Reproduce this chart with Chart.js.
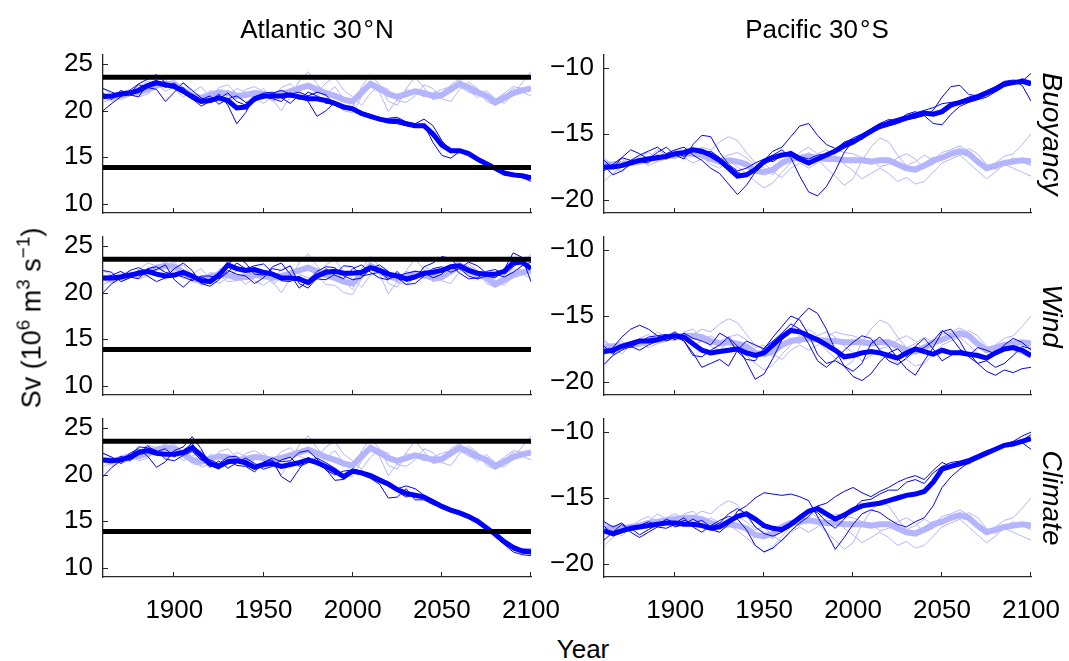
<!DOCTYPE html>
<html>
<head>
<meta charset="utf-8">
<title>Overturning at 30N / 30S</title>
<script src="https://cdn.jsdelivr.net/npm/chart.js@4.4.0/dist/chart.umd.min.js"></script>
<style>
  body { margin: 0; background: #fff; }
  #fig { position: relative; width: 1069px; height: 661px; overflow: hidden;
         font-family: "Liberation Sans", Arial, Helvetica, sans-serif; color: #000; }
  #fig canvas { position: absolute; }
  .lbl { position: absolute; white-space: nowrap; font-size: 26px; line-height: 1; z-index: 5; }
  .lbl sup { font-size: 70%; line-height: 0; vertical-align: 0.6em; }
  .row { font-style: italic; font-size: 28px; }
</style>
</head>
<body>
<div id="fig">
  <div class="lbl" style="left:317px;top:29px;transform:translate(-50%,-50%)">Atlantic 30<span style="margin:0 1px 0 2px">°</span>N</div>
  <div class="lbl" style="left:817px;top:29px;transform:translate(-50%,-50%)">Pacific 30<span style="margin:0 1px 0 2px">°</span>S</div>
  <div class="lbl" style="left:32px;top:318px;font-size:27px;transform:translate(-50%,-50%) rotate(-90deg)">Sv (10<sup>6</sup> m<sup>3</sup> s<sup>−1</sup>)</div>
  <div class="lbl" style="left:583px;top:649px;transform:translate(-50%,-50%)">Year</div>
  <div class="lbl row" style="left:1052px;top:134px;transform:translate(-50%,-50%) rotate(90deg)">Buoyancy</div>
  <div class="lbl row" style="left:1052px;top:316px;transform:translate(-50%,-50%) rotate(90deg)">Wind</div>
  <div class="lbl row" style="left:1052px;top:498px;transform:translate(-50%,-50%) rotate(90deg)">Climate</div>
</div>
<script>
// years (5-yearly) and tick labels
const years = [1860, 1865, 1870, 1875, 1880, 1885, 1890,
               1895, 1900, 1905, 1910, 1915, 1920, 1925,
               1930, 1935, 1940, 1945, 1950, 1955, 1960,
               1965, 1970, 1975, 1980, 1985, 1990, 1995,
               2000, 2005, 2010, 2015, 2020, 2025, 2030,
               2035, 2040, 2045, 2050, 2055, 2060, 2065,
               2070, 2075, 2080, 2085, 2090, 2095, 2100];
const yearTicks = [1900, 1950, 2000, 2050, 2100];
const atlTicks = [10, 15, 20, 25];
const pacTicks = [-20, -15, -10];
const atlLimits = [23.6, 13.9];

// Atlantic 30N control runs (light)
const atlCtrlMean = [21.6, 21.5, 21.7, 21.9, 22.0, 22.3, 22.7,
                     22.9, 22.8, 22.2, 21.6, 21.4, 21.7, 22.0,
                     21.9, 21.6, 21.7, 21.9, 21.8, 21.6, 21.8,
                     22.1, 22.4, 22.7, 22.3, 21.9, 21.6, 21.2,
                     21.0, 22.0, 22.9, 22.4, 21.8, 21.5, 21.8,
                     22.1, 21.9, 21.6, 21.7, 22.3, 22.9, 22.5,
                     22.0, 21.6, 20.9, 21.4, 21.9, 22.2, 22.4];
const atlCtrl1 = [22.4, 21.8, 21.2, 21.6, 22.5, 23.2, 22.9,
                  22.1, 22.6, 23.0, 21.9, 20.8, 21.2, 22.5,
                  22.8, 21.8, 20.9, 21.6, 22.4, 21.2, 20.0,
                  21.5, 23.2, 24.2, 22.9, 21.8, 22.6, 21.3,
                  20.3, 22.6, 23.9, 22.8, 21.0, 20.6, 22.4,
                  23.6, 22.5, 21.2, 21.4, 22.8, 23.4, 22.2,
                  21.4, 22.2, 21.3, 20.8, 21.8, 23.0, 24.2];
const atlCtrl2 = [20.9, 21.3, 22.0, 22.3, 21.5, 21.8, 22.6,
                  23.4, 22.3, 21.5, 22.0, 22.6, 21.5, 21.0,
                  21.6, 22.4, 22.0, 21.3, 20.8, 21.5, 22.5,
                  22.9, 22.0, 21.6, 21.9, 23.0, 23.6, 22.2,
                  21.5, 20.6, 21.9, 22.7, 22.3, 21.1, 20.9,
                  21.6, 22.8, 22.4, 21.3, 21.0, 22.3, 23.1,
                  22.4, 21.0, 20.6, 21.6, 22.4, 22.0, 21.6];
const atlCtrl3 = [21.6, 21.0, 21.5, 22.0, 22.4, 21.9, 22.8,
                  23.0, 23.3, 22.4, 21.2, 21.0, 22.2, 21.9,
                  21.2, 21.3, 22.3, 22.6, 22.0, 21.0, 21.5,
                  22.3, 22.3, 22.6, 21.8, 20.9, 20.8, 20.0,
                  19.8, 21.5, 22.6, 22.0, 19.9, 21.2, 22.3,
                  22.0, 21.5, 21.9, 22.3, 22.6, 22.6, 22.0,
                  21.7, 21.5, 21.2, 21.9, 22.6, 22.4, 22.3];

// Atlantic 30N, buoyancy forcing
const atlBuoyMean = [21.5, 21.6, 21.8, 21.9, 22.2, 22.7, 23.0,
                     22.8, 22.6, 22.1, 21.5, 21.0, 21.1, 21.4,
                     21.1, 20.3, 20.4, 21.3, 21.6, 21.6, 21.6,
                     21.7, 21.5, 21.3, 21.3, 21.1, 20.8, 20.4,
                     20.2, 19.7, 19.4, 19.1, 18.9, 18.9, 18.6,
                     18.4, 18.4, 17.5, 16.3, 15.7, 15.7, 15.4,
                     14.8, 14.3, 13.8, 13.3, 13.1, 13.0, 12.8];
const atlBuoy1 = [20.0, 20.8, 21.5, 22.2, 22.9, 23.4, 23.9,
                  23.0, 22.4, 22.5, 21.3, 20.5, 21.0, 21.8,
                  20.6, 18.6, 19.8, 21.5, 21.9, 22.0, 21.4,
                  20.8, 21.7, 21.0, 19.4, 20.0, 20.9, 20.5,
                  20.0, 19.5, 19.3, 19.0, 18.7, 18.6, 18.4,
                  18.3, 18.5, 16.6, 15.2, 14.9, 15.6, 15.2,
                  14.7, 14.1, 13.6, 13.1, 13.0, 12.8, 12.4];
const atlBuoy2 = [22.4, 22.0, 21.6, 21.9, 22.8, 22.5, 22.3,
                  21.0, 22.0, 23.0, 22.2, 21.4, 20.9, 21.3,
                  21.9, 21.0, 20.6, 21.2, 21.3, 21.9, 22.2,
                  21.8, 22.0, 21.6, 22.0, 21.7, 20.6, 20.2,
                  20.4, 19.9, 19.6, 19.0, 19.2, 19.3, 18.8,
                  18.6, 19.1, 18.4, 16.8, 15.7, 15.8, 15.5,
                  14.9, 14.4, 13.7, 13.4, 13.0, 12.9, 12.7];
const atlBuoy3 = [21.9, 21.2, 22.2, 21.7, 21.5, 22.9, 23.3,
                  22.5, 23.0, 22.0, 21.8, 21.2, 21.6, 20.7,
                  21.3, 21.6, 20.9, 21.0, 21.5, 21.3, 21.0,
                  21.9, 21.2, 22.0, 21.6, 20.8, 20.9, 20.6,
                  20.1, 19.8, 19.5, 19.3, 18.8, 19.0, 18.8,
                  18.3, 18.2, 17.2, 16.2, 15.5, 15.6, 15.4,
                  14.6, 14.2, 13.9, 13.3, 13.3, 13.1, 13.0];

// Atlantic 30N, wind forcing
const atlWindMean = [21.6, 21.6, 21.7, 21.9, 22.1, 22.3, 22.0,
                     21.8, 21.9, 22.2, 21.8, 21.3, 21.2, 21.9,
                     23.0, 22.6, 22.4, 22.5, 22.2, 22.0, 21.6,
                     21.6, 21.5, 21.1, 21.8, 22.2, 22.3, 22.1,
                     22.1, 22.2, 22.7, 22.4, 22.0, 21.8, 21.5,
                     21.7, 22.1, 22.2, 22.4, 22.8, 22.9, 22.4,
                     22.1, 22.0, 22.0, 22.3, 23.2, 23.3, 22.6];
const atlWind1 = [20.0, 21.0, 21.6, 22.4, 22.7, 22.2, 22.5,
                  23.0, 21.4, 20.6, 21.5, 21.7, 21.3, 22.2,
                  23.1, 23.8, 23.2, 22.0, 21.9, 22.6, 22.4,
                  22.9, 21.0, 20.5, 21.6, 22.6, 21.9, 21.5,
                  22.6, 23.0, 22.2, 21.6, 21.4, 22.3, 21.2,
                  21.5, 22.8, 23.2, 23.9, 23.7, 22.6, 21.8,
                  21.5, 21.8, 21.6, 22.5, 24.3, 23.8, 21.2];
const atlWind2 = [22.4, 22.2, 21.2, 21.6, 22.4, 21.8, 21.2,
                  21.6, 22.6, 23.2, 22.4, 21.0, 20.7, 21.4,
                  22.4, 22.0, 21.8, 21.0, 21.6, 22.8, 23.2,
                  22.0, 20.5, 21.3, 22.3, 22.8, 22.7, 21.8,
                  21.4, 21.6, 22.6, 23.0, 22.3, 21.6, 20.9,
                  21.0, 21.8, 22.6, 22.8, 22.2, 22.6, 23.3,
                  22.9, 22.1, 22.0, 21.7, 22.2, 22.9, 23.3];
const atlWind3 = [21.5, 21.9, 22.3, 21.7, 21.5, 22.6, 22.8,
                  22.2, 22.0, 21.7, 21.3, 21.8, 21.8, 21.5,
                  22.2, 23.2, 22.6, 22.9, 23.1, 22.2, 21.3,
                  21.2, 21.8, 21.0, 21.5, 21.4, 22.0, 22.9,
                  22.8, 21.8, 22.0, 22.2, 21.5, 21.8, 22.1,
                  22.3, 22.2, 21.6, 22.0, 23.0, 22.1, 21.5,
                  21.6, 22.3, 22.5, 22.0, 22.8, 23.5, 22.8];

// Atlantic 30N, full climate forcing
const atlClimMean = [21.6, 21.5, 21.6, 21.9, 22.4, 22.6, 22.3,
                     22.2, 22.2, 22.4, 22.9, 22.1, 21.2, 20.9,
                     21.4, 21.5, 21.3, 20.8, 21.1, 21.2, 20.9,
                     21.1, 21.3, 21.6, 21.3, 20.9, 20.4, 19.8,
                     20.4, 20.2, 19.9, 19.4, 19.0, 18.4, 18.0,
                     17.8, 17.6, 17.1, 16.6, 16.2, 15.9, 15.5,
                     15.0, 14.3, 13.6, 12.8, 12.2, 11.8, 11.7];
const atlClim1 = [19.8, 20.8, 21.5, 22.3, 22.8, 22.0, 20.8,
                  21.4, 22.6, 23.0, 24.1, 22.8, 21.0, 20.6,
                  21.6, 21.0, 20.9, 20.3, 21.4, 21.6, 19.8,
                  19.2, 20.6, 21.9, 21.2, 20.6, 19.4, 19.5,
                  20.2, 20.0, 19.6, 19.0, 17.5, 17.6, 18.5,
                  17.3, 17.3, 16.8, 16.5, 16.1, 15.8, 15.4,
                  14.8, 14.2, 13.3, 12.5, 11.7, 11.4, 11.3];
const atlClim2 = [22.3, 21.9, 21.2, 22.0, 23.0, 22.9, 22.6,
                  21.7, 21.5, 22.1, 22.5, 21.6, 21.6, 21.2,
                  21.9, 22.0, 21.0, 20.6, 21.3, 21.8, 21.4,
                  21.5, 22.4, 22.6, 21.7, 20.5, 20.0, 20.4,
                  20.5, 20.3, 20.1, 19.7, 19.2, 18.5, 18.8,
                  18.5, 17.8, 17.3, 16.8, 16.3, 16.0, 15.6,
                  15.2, 14.4, 13.8, 13.0, 12.3, 12.0, 12.0];
const atlClim3 = [21.7, 21.3, 22.0, 21.5, 22.2, 23.1, 22.5,
                  22.8, 21.9, 22.6, 23.4, 21.7, 20.8, 21.5,
                  20.7, 21.3, 21.8, 21.2, 20.6, 20.9, 21.6,
                  21.9, 20.9, 21.3, 21.8, 21.3, 20.7, 19.9,
                  20.6, 20.4, 19.8, 19.2, 18.8, 18.2, 17.6,
                  17.9, 17.7, 17.0, 16.4, 16.0, 15.7, 15.4,
                  14.9, 14.1, 13.4, 12.6, 11.9, 11.6, 11.5];

// Pacific 30S control runs (light)
const pacCtrlMean = [-17.4, -17.3, -17.3, -17.2, -17.1, -16.9, -16.8,
                     -16.7, -16.6, -16.5, -16.5, -16.6, -16.9, -17.1,
                     -17.0, -17.1, -17.3, -17.8, -17.9, -17.7, -17.2,
                     -16.9, -16.8, -16.7, -16.8, -16.9, -16.9, -17.0,
                     -17.0, -17.0, -17.1, -17.0, -17.0, -17.3, -17.6,
                     -17.7, -17.4, -17.0, -16.8, -16.5, -16.3, -16.5,
                     -17.1, -17.6, -17.4, -17.2, -17.1, -17.0, -17.1];
const pacCtrl1 = [-16.8, -17.4, -17.9, -17.2, -16.7, -16.4, -16.9,
                  -16.5, -16.2, -16.6, -16.4, -16.0, -16.2, -15.6,
                  -15.2, -15.5, -16.4, -17.2, -17.6, -18.1, -17.3,
                  -16.8, -17.1, -16.4, -16.9, -17.6, -18.2, -18.9,
                  -18.4, -17.0, -16.0, -15.3, -15.6, -16.6, -17.4,
                  -17.1, -16.6, -17.0, -16.4, -16.2, -15.9, -16.3,
                  -17.0, -17.6, -17.2, -16.7, -16.5, -15.8, -15.0];
const pacCtrl2 = [-18.6, -18.0, -17.5, -17.0, -17.3, -16.8, -16.2,
                  -16.6, -16.9, -16.2, -16.0, -16.7, -17.3, -17.6,
                  -17.0, -17.5, -18.0, -18.6, -19.1, -18.7, -17.9,
                  -17.2, -16.4, -16.0, -16.5, -16.2, -16.6, -17.3,
                  -17.8, -18.4, -18.0, -17.6, -18.0, -18.6, -18.3,
                  -18.8, -18.6, -17.9, -17.2, -16.9, -16.6, -17.2,
                  -17.8, -18.4, -17.9, -17.3, -17.6, -17.9, -18.2];
const pacCtrl3 = [-17.0, -17.2, -16.9, -17.4, -17.0, -17.4, -17.1,
                  -16.9, -16.5, -16.8, -17.2, -16.9, -16.5, -16.9,
                  -16.6, -16.4, -16.8, -17.4, -17.2, -17.9, -18.3,
                  -17.6, -17.2, -17.6, -17.2, -16.6, -16.2, -16.4,
                  -16.5, -16.8, -16.9, -17.5, -17.3, -16.8, -16.5,
                  -16.9, -17.6, -17.3, -16.8, -16.4, -16.5, -16.1,
                  -16.5, -17.3, -17.7, -17.2, -16.8, -17.1, -17.4];

// Pacific 30S, buoyancy forcing
const pacBuoyMean = [-17.5, -17.5, -17.4, -17.2, -17.0, -16.9, -16.8,
                     -16.7, -16.5, -16.4, -16.2, -16.3, -16.6, -17.0,
                     -17.6, -18.2, -18.1, -17.7, -17.1, -16.8, -16.6,
                     -16.5, -16.9, -17.2, -16.9, -16.6, -16.3, -15.9,
                     -15.6, -15.2, -14.8, -14.4, -14.2, -14.0, -13.8,
                     -13.6, -13.4, -13.5, -13.3, -12.8, -12.6, -12.4,
                     -12.2, -11.9, -11.6, -11.2, -11.1, -11.0, -11.2];
const pacBuoy1 = [-17.0, -17.6, -16.8, -16.2, -16.5, -16.9, -16.4,
                  -16.0, -16.6, -16.9, -15.8, -15.1, -15.2, -16.4,
                  -17.3, -17.8, -17.6, -17.2, -16.9, -16.6, -16.2,
                  -16.8, -18.2, -19.4, -19.7, -19.0, -17.8, -16.4,
                  -15.5, -15.1, -14.8, -14.5, -14.0, -13.8, -13.6,
                  -13.4, -13.2, -13.0, -12.7, -12.6, -12.5, -12.2,
                  -12.0, -11.7, -11.4, -11.0, -10.9, -11.0, -10.4];
const pacBuoy2 = [-17.8, -17.3, -16.8, -17.0, -16.6, -16.3, -16.0,
                  -16.5, -16.2, -16.0, -16.6, -17.0, -17.6, -18.0,
                  -18.8, -19.6, -18.9, -17.9, -17.0, -16.3, -16.0,
                  -15.2, -14.4, -14.2, -15.1, -15.8, -16.1, -15.7,
                  -15.3, -15.0, -14.6, -14.2, -13.9, -14.0, -13.5,
                  -13.3, -13.6, -13.2, -12.2, -11.4, -11.3, -12.0,
                  -12.1, -11.8, -11.5, -11.3, -11.0, -11.3, -12.5];
const pacBuoy3 = [-17.4, -18.1, -17.8, -17.3, -17.1, -17.2, -16.6,
                  -16.9, -16.4, -16.7, -16.3, -16.5, -16.3, -16.8,
                  -17.4, -17.9, -18.2, -17.5, -16.9, -17.1, -16.6,
                  -16.3, -16.7, -16.9, -16.6, -16.5, -16.2, -15.6,
                  -15.4, -15.4, -14.9, -14.6, -14.4, -14.2, -13.9,
                  -13.8, -13.6, -14.2, -14.3, -13.5, -12.9, -12.6,
                  -12.4, -12.2, -11.8, -11.4, -11.2, -10.8, -11.0];

// Pacific 30S, wind forcing
const pacWindMean = [-17.7, -17.6, -17.3, -17.1, -16.9, -16.9, -16.8,
                     -16.6, -16.5, -16.6, -17.1, -17.6, -17.8, -17.7,
                     -17.6, -17.5, -17.8, -18.0, -17.8, -17.2, -16.6,
                     -16.1, -16.2, -16.5, -16.8, -17.2, -17.6, -18.1,
                     -18.0, -17.8, -17.7, -17.8, -18.0, -18.2, -17.8,
                     -17.5, -17.7, -17.9, -17.6, -17.8, -17.8, -17.9,
                     -18.0, -18.2, -17.8, -17.5, -17.4, -17.6, -18.0];
const pacWind1 = [-17.9, -17.4, -16.6, -16.0, -15.7, -16.0, -16.5,
                  -16.9, -16.6, -16.9, -17.8, -18.9, -18.6, -18.3,
                  -18.8, -17.6, -16.9, -17.2, -17.5, -16.6, -15.8,
                  -15.0, -15.3, -16.4, -17.9, -18.6, -18.4, -18.8,
                  -19.2, -18.6, -17.1, -16.6, -17.3, -18.2, -19.0,
                  -19.5, -18.4, -17.4, -16.2, -16.0, -16.9, -18.1,
                  -18.6, -18.4, -18.9, -18.6, -18.0, -17.3, -17.5];
const pacWind2 = [-18.7, -18.0, -17.6, -17.3, -17.6, -17.2, -16.9,
                  -16.6, -16.2, -16.9, -18.0, -18.1, -17.6, -17.2,
                  -16.6, -17.3, -18.5, -19.8, -19.4, -18.2, -16.8,
                  -16.0, -15.1, -14.4, -14.8, -16.0, -17.6, -18.8,
                  -19.6, -19.9, -19.4, -18.5, -17.8, -17.5, -18.1,
                  -17.3, -16.7, -17.5, -18.4, -18.0, -17.6, -17.8,
                  -18.6, -19.2, -19.5, -19.1, -19.3, -19.0, -18.9];
const pacWind3 = [-17.3, -17.9, -17.2, -17.4, -17.0, -16.6, -16.5,
                  -16.4, -16.8, -16.3, -16.7, -16.9, -17.2, -16.3,
                  -16.7, -17.7, -18.3, -18.4, -17.4, -16.9, -16.3,
                  -15.6, -16.0, -17.1, -18.4, -18.9, -18.3, -17.6,
                  -17.0, -16.5, -16.7, -17.6, -18.4, -18.7, -18.2,
                  -17.6, -17.4, -16.9, -16.1, -16.6, -17.5, -18.0,
                  -17.4, -17.6, -17.9, -17.2, -16.7, -17.0, -17.6];

// Pacific 30S, full climate forcing
const pacClimMean = [-17.5, -17.7, -17.5, -17.3, -17.2, -17.1, -17.0,
                     -16.9, -16.9, -17.0, -17.0, -17.1, -17.3, -17.2,
                     -16.8, -16.4, -16.2, -16.6, -17.1, -17.3, -17.4,
                     -17.0, -16.5, -16.0, -15.8, -16.2, -16.6, -16.3,
                     -15.9, -15.6, -15.5, -15.4, -15.2, -15.0, -14.8,
                     -14.7, -14.5, -13.8, -12.8, -12.6, -12.4, -12.2,
                     -11.9, -11.6, -11.3, -11.0, -10.9, -10.7, -10.5];
const pacClim1 = [-17.1, -17.9, -17.6, -17.3, -17.8, -17.4, -17.0,
                  -16.8, -17.2, -17.0, -16.6, -17.0, -17.4, -17.6,
                  -17.0, -16.0, -15.6, -15.0, -14.6, -14.7, -14.8,
                  -14.7, -14.9, -15.2, -16.4, -17.6, -18.9, -18.0,
                  -17.0, -16.2, -15.9, -16.1, -16.6, -17.0, -17.2,
                  -16.8, -16.5, -15.6, -14.2, -13.4, -12.8, -12.3,
                  -11.8, -11.5, -11.2, -11.0, -10.8, -10.6, -10.2];
const pacClim2 = [-16.8, -17.2, -16.9, -17.5, -17.1, -16.8, -17.1,
                  -16.6, -16.9, -16.5, -17.2, -17.6, -17.1, -16.7,
                  -16.4, -16.6, -17.4, -18.6, -19.1, -18.8, -18.2,
                  -17.5, -16.9, -16.4, -15.6, -15.4, -14.9, -14.5,
                  -14.2, -14.6, -14.9, -14.5, -14.2, -13.8, -13.5,
                  -13.3, -13.6, -12.9, -12.3, -12.6, -12.5, -12.4,
                  -12.0, -11.6, -11.4, -11.1, -10.9, -10.8, -11.3];
const pacClim3 = [-18.2, -17.6, -17.0, -17.6, -18.0, -17.6, -17.2,
                  -17.3, -17.0, -16.7, -16.9, -16.7, -17.2, -16.9,
                  -16.2, -15.8, -16.2, -17.2, -17.7, -17.9, -17.6,
                  -16.9, -16.3, -15.9, -16.1, -16.8, -17.3, -16.6,
                  -15.8, -15.2, -15.1, -14.7, -14.4, -14.4, -13.8,
                  -13.6, -13.9, -13.1, -12.6, -12.3, -12.2, -12.0,
                  -11.7, -11.4, -11.2, -10.9, -10.7, -10.3, -10.0];

const dark = '#0000ff';
const light = '#b4b4ff';
const axisColour = '#262626';
const fontFamily = '"Liberation Sans", Arial, Helvetica, sans-serif';

// plot-area geometry (pixels)
const colLeft = [103, 604];
const colWidth = [428, 427];
const padRight = [40, 38];
const rowTop = [55, 237, 419];
const plotHeight = 158;
const yAxisWidth = 80;
const padTop = 12;

function line(vals, colour, width, order) {
  return {
    data: years.map((yr, i) => ({ x: yr, y: vals[i] })),
    borderColor: colour,
    borderWidth: width,
    pointRadius: 0,
    tension: 0,
    fill: false,
    order: order
  };
}

function level(v) {
  return {
    data: [{ x: years[0], y: v }, { x: years[years.length - 1], y: v }],
    borderColor: '#000',
    borderWidth: 5,
    pointRadius: 0,
    fill: false,
    order: 0
  };
}

function fmt(v) {
  return v < 0 ? '\u2212' + Math.abs(v) : String(v);
}

// matlab style ticks pointing into the plot
const inwardTicks = {
  id: 'inwardTicks',
  afterDatasetsDraw(chart) {
    const { ctx, chartArea, scales } = chart;
    ctx.save();
    ctx.strokeStyle = axisColour;
    ctx.lineWidth = 1;
    scales.x.ticks.forEach(t => {
      const px = Math.round(scales.x.getPixelForValue(t.value)) - 0.5;
      ctx.beginPath();
      ctx.moveTo(px, chartArea.bottom);
      ctx.lineTo(px, chartArea.bottom - 5);
      ctx.stroke();
    });
    scales.y.ticks.forEach(t => {
      const py = Math.round(scales.y.getPixelForValue(t.value)) + 0.5;
      ctx.beginPath();
      ctx.moveTo(chartArea.left, py);
      ctx.lineTo(chartArea.left + 5, py);
      ctx.stroke();
    });
    ctx.restore();
  }
};

const panels = [
  { col: 0, row: 0, mean: atlBuoyMean, members: [atlBuoy1, atlBuoy2, atlBuoy3],
    ctrlMean: atlCtrlMean, ctrl: [atlCtrl1, atlCtrl2, atlCtrl3], min: 9, max: 26, ticks: atlTicks, limits: atlLimits },
  { col: 1, row: 0, mean: pacBuoyMean, members: [pacBuoy1, pacBuoy2, pacBuoy3],
    ctrlMean: pacCtrlMean, ctrl: [pacCtrl1, pacCtrl2, pacCtrl3], min: -21, max: -9, ticks: pacTicks, limits: [] },
  { col: 0, row: 1, mean: atlWindMean, members: [atlWind1, atlWind2, atlWind3],
    ctrlMean: atlCtrlMean, ctrl: [atlCtrl1, atlCtrl2, atlCtrl3], min: 9, max: 26, ticks: atlTicks, limits: atlLimits },
  { col: 1, row: 1, mean: pacWindMean, members: [pacWind1, pacWind2, pacWind3],
    ctrlMean: pacCtrlMean, ctrl: [pacCtrl1, pacCtrl2, pacCtrl3], min: -21, max: -9, ticks: pacTicks, limits: [] },
  { col: 0, row: 2, mean: atlClimMean, members: [atlClim1, atlClim2, atlClim3],
    ctrlMean: atlCtrlMean, ctrl: [atlCtrl1, atlCtrl2, atlCtrl3], min: 9, max: 26, ticks: atlTicks, limits: atlLimits },
  { col: 1, row: 2, mean: pacClimMean, members: [pacClim1, pacClim2, pacClim3],
    ctrlMean: pacCtrlMean, ctrl: [pacCtrl1, pacCtrl2, pacCtrl3], min: -21, max: -9, ticks: pacTicks, limits: [] }
];

const fig = document.getElementById('fig');

panels.forEach(p => {
  const bottomRow = p.row === 2;
  const xAxisHeight = bottomRow ? 55 : 4;
  const w = yAxisWidth + colWidth[p.col] + padRight[p.col];
  const h = padTop + plotHeight + xAxisHeight;
  const cv = document.createElement('canvas');
  cv.width = w;
  cv.height = h;
  cv.style.left = (colLeft[p.col] - yAxisWidth) + 'px';
  cv.style.top = (rowTop[p.row] - padTop) + 'px';
  cv.style.width = w + 'px';
  cv.style.height = h + 'px';
  fig.appendChild(cv);

  const datasets = [];
  p.limits.forEach(v => datasets.push(level(v)));
  datasets.push(line(p.mean, dark, 5, 1));
  p.members.forEach(m => datasets.push(line(m, dark, 1, 2)));
  datasets.push(line(p.ctrlMean, light, 6, 3));
  p.ctrl.forEach(c => datasets.push(line(c, light, 1, 4)));

  new Chart(cv, {
    type: 'line',
    data: { datasets: datasets },
    options: {
      responsive: false,
      animation: false,
      devicePixelRatio: 1,
      layout: { padding: { top: padTop, right: padRight[p.col], left: 0, bottom: 0 } },
      plugins: { legend: { display: false }, tooltip: { enabled: false } },
      scales: {
        x: {
          type: 'linear',
          min: years[0],
          max: years[years.length - 1],
          afterBuildTicks: s => { s.ticks = yearTicks.map(v => ({ value: v })); },
          afterFit: s => { s.height = xAxisHeight; s.paddingLeft = 0; s.paddingRight = 0; },
          grid: { display: false, drawTicks: false },
          border: { display: true, color: axisColour, width: 1.3 },
          ticks: {
            display: bottomRow, padding: 18, color: '#000', maxRotation: 0, autoSkip: false,
            font: { family: fontFamily, size: 26 },
            callback: v => String(v)
          }
        },
        y: {
          min: p.min,
          max: p.max,
          afterBuildTicks: s => { s.ticks = p.ticks.map(v => ({ value: v })); },
          afterFit: s => { s.width = yAxisWidth; s.paddingTop = 0; s.paddingBottom = 0; },
          grid: { display: false, drawTicks: false },
          border: { display: true, color: axisColour, width: 1.3 },
          ticks: {
            padding: 10, color: '#000',
            font: { family: fontFamily, size: 26 },
            callback: v => fmt(v)
          }
        }
      }
    },
    plugins: [inwardTicks]
  });
});
</script>
</body>
</html>
